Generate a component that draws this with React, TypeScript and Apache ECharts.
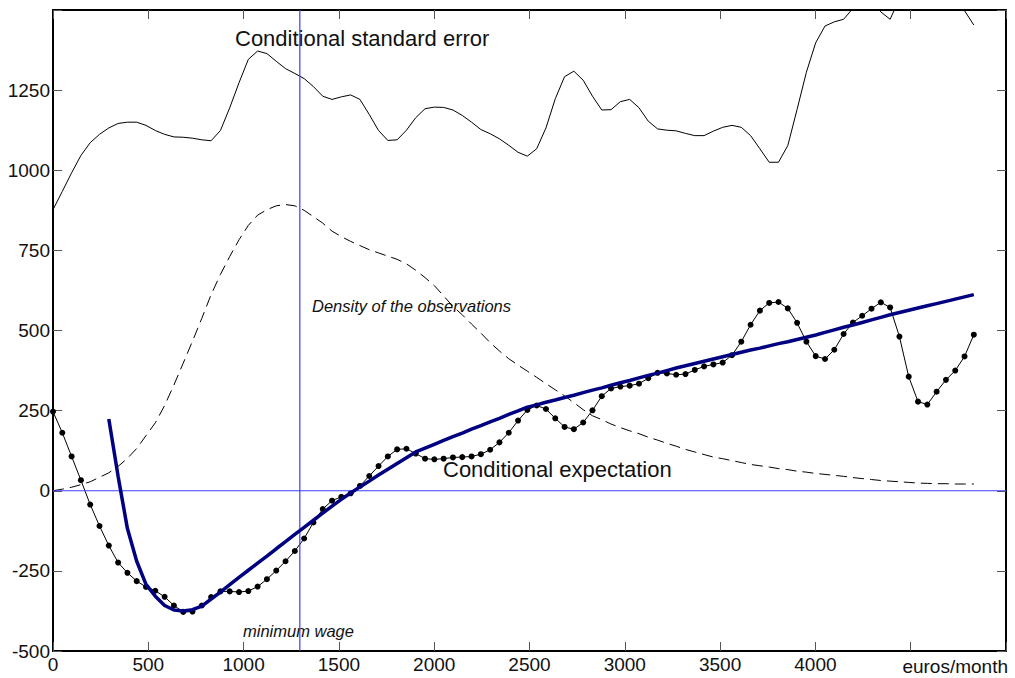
import React, { useEffect, useRef } from "react";
import * as echarts from "echarts";

// Sampling grid of the estimates (euros/month)
const X_STEP = 48.8;
const X_MAX = 5000;
const Y_MIN = -500;
const Y_MAX = 1500;
const MIN_WAGE = 1295;

// Conditional standard error (thin solid line)
const STD_ERROR = [
  877, 934, 992, 1046, 1086, 1112, 1132, 1146, 1150, 1150,
  1140, 1124, 1112, 1104, 1103, 1100, 1095, 1092, 1124, 1195,
  1273, 1346, 1372, 1364, 1340, 1317, 1302, 1286, 1261, 1231,
  1221, 1229, 1235, 1221, 1174, 1124, 1093, 1095, 1125, 1164,
  1192, 1197, 1196, 1188, 1171, 1150, 1127, 1114, 1098, 1078,
  1056, 1044, 1067, 1132, 1223, 1292, 1309, 1281, 1231, 1188,
  1189, 1214, 1221, 1195, 1153, 1129, 1125, 1123, 1115, 1108,
  1108, 1122, 1134, 1140, 1134, 1108, 1067, 1025, 1025, 1077,
  1190, 1306, 1398, 1450, 1463, 1471, 1505, 1560, 1530, 1494,
  1471, 1535, 1600, 1620, 1610, 1590, 1560, 1540, 1498, 1453,
];

// Density of the observations (dashed line, rescaled)
const DENSITY = [
  0, 5, 11, 19, 28, 42, 56, 76, 101, 132,
  172, 212, 266, 330, 398, 467, 538, 612, 675, 731,
  783, 828, 860, 877, 889, 893, 889, 875, 855, 835,
  810, 793, 778, 765, 752, 742, 732, 722, 708, 688,
  665, 640, 608, 575, 549, 520, 492, 462, 436, 412,
  392, 373, 354, 334, 315, 296, 275, 253, 234, 222,
  208, 197, 187, 178, 167, 158, 148, 139, 129, 121,
  113, 105, 100, 94, 88, 82, 78, 74, 69, 66,
  61, 58, 54, 51, 48, 45, 41, 38, 35, 32,
  30, 28, 26, 24, 23, 22, 22, 21, 21, 21,
];

// Conditional expectation (line with dots)
const COND_EXP_DOTS = [
  247, 181, 107, 33, -43, -110, -171, -224, -256, -282,
  -300, -312, -331, -358, -378, -377, -358, -332, -314, -314,
  -316, -313, -299, -276, -249, -220, -188, -149, -99, -57,
  -31, -19, -8, 15, 46, 77, 107, 129, 131, 116,
  100, 98, 100, 104, 105, 107, 114, 128, 151, 181,
  219, 252, 266, 255, 226, 199, 192, 213, 251, 295,
  319, 325, 328, 334, 351, 368, 366, 362, 364, 377,
  388, 394, 400, 423, 465, 518, 562, 586, 589, 569,
  524, 465, 420, 411, 440, 489, 525, 546, 568, 588,
  572, 481, 356, 278, 269, 309, 346, 375, 419, 487,
];

// Smoothed conditional expectation (thick navy curve), starts at grid index 6
const SMOOTH_START = 6;
const COND_EXP_SMOOTH = [
  224, 45, -118, -220, -292, -329, -358, -372, -375, -371,
  -360, -338, -316, -293, -270, -248, -226, -204, -181, -159,
  -136, -114, -92, -70, -48, -27, -7, 12, 30, 49,
  67, 85, 103, 121, 133, 145, 157, 169, 180, 192,
  203, 215, 226, 238, 249, 261, 268, 276, 283, 291,
  298, 306, 314, 321, 329, 337, 344, 352, 360, 367,
  375, 383, 390, 397, 404, 411, 418, 425, 432, 439,
  445, 452, 459, 465, 472, 479, 486, 494, 502, 510,
  517, 525, 533, 541, 549, 556, 563, 570, 577, 584,
  591, 598, 605, 612,
];

const FONT = "'Liberation Sans', Arial, Helvetica, sans-serif";
const REF_BLUE = "#3c3cff";

const toPairs = (vals: number[], start = 0) =>
  vals.map((v, i) => [(i + start) * X_STEP, v]);

const makeAxisLine = () => ({ show: true, onZero: false, lineStyle: { color: "#000", width: 2 } });
const makeAxisTick = () => ({ show: true, inside: true, length: 9, lineStyle: { color: "#555", width: 1 } });

export default function App() {
  const ref = useRef<HTMLDivElement>(null);

  useEffect(() => {
    if (!ref.current) return;
    const chart = echarts.init(ref.current, undefined, { renderer: "svg" });

    chart.setOption({
      animation: false,
      backgroundColor: "#fff",
      textStyle: { fontFamily: FONT },
      grid: { left: 53, right: 9, top: 10, bottom: 27, containLabel: false },
      xAxis: [
        {
          type: "value",
          min: 0,
          max: X_MAX,
          interval: 500,
          position: "bottom",
          axisLine: makeAxisLine(),
          axisTick: makeAxisTick(),
          splitLine: { show: false },
          axisLabel: {
            margin: 4,
            fontSize: 19,
            color: "#111",
            fontFamily: FONT,
            formatter: (v: number) => (v <= 4000 ? String(v) : ""),
          },
          name: "euros/month",
          nameLocation: "end",
          nameGap: 2,
          nameTextStyle: {
            fontSize: 19,
            color: "#111",
            fontFamily: FONT,
            align: "right",
            verticalAlign: "top",
            padding: [6, 0, 0, 0],
          },
        },
        {
          type: "value",
          min: 0,
          max: X_MAX,
          interval: 500,
          position: "top",
          axisLine: makeAxisLine(),
          axisTick: makeAxisTick(),
          splitLine: { show: false },
          axisLabel: { show: false },
        },
      ],
      yAxis: [
        {
          type: "value",
          min: Y_MIN,
          max: Y_MAX,
          interval: 250,
          position: "left",
          axisLine: makeAxisLine(),
          axisTick: makeAxisTick(),
          splitLine: { show: false },
          axisLabel: {
            margin: 3,
            fontSize: 19,
            color: "#111",
            fontFamily: FONT,
            formatter: (v: number) => (v >= Y_MAX ? "" : String(v)),
          },
        },
        {
          type: "value",
          min: Y_MIN,
          max: Y_MAX,
          interval: 250,
          position: "right",
          axisLine: makeAxisLine(),
          axisTick: makeAxisTick(),
          splitLine: { show: false },
          axisLabel: { show: false },
        },
      ],
      series: [
        {
          name: "Conditional standard error",
          type: "line",
          data: toPairs(STD_ERROR),
          symbol: "none",
          clip: true,
          lineStyle: { color: "#000", width: 1 },
          z: 2,
        },
        {
          name: "Density of the observations",
          type: "line",
          data: toPairs(DENSITY),
          symbol: "none",
          clip: true,
          lineStyle: { color: "#000", width: 1, type: [11, 6] },
          z: 2,
        },
        {
          name: "Conditional expectation",
          type: "line",
          data: toPairs(COND_EXP_DOTS),
          symbol: "circle",
          symbolSize: 6,
          showSymbol: true,
          clip: true,
          itemStyle: { color: "#000" },
          lineStyle: { color: "#000", width: 1 },
          z: 3,
        },
        {
          name: "Zero line",
          type: "line",
          data: [[0, 0], [X_MAX, 0]],
          symbol: "none",
          itemStyle: { color: REF_BLUE },
          lineStyle: { color: REF_BLUE, width: 1.2 },
          z: 3.5,
        },
        {
          name: "Minimum wage",
          type: "line",
          data: [[MIN_WAGE, Y_MIN], [MIN_WAGE, Y_MAX]],
          symbol: "none",
          itemStyle: { color: REF_BLUE },
          lineStyle: { color: REF_BLUE, width: 1.2 },
          z: 3.5,
        },
        {
          name: "Smoothed conditional expectation",
          type: "line",
          data: toPairs(COND_EXP_SMOOTH, SMOOTH_START),
          symbol: "none",
          clip: true,
          lineStyle: { color: "#000080", width: 3.5 },
          z: 4,
        },
      ],
      graphic: [
        {
          type: "text",
          x: 235,
          y: 38,
          style: { text: "Conditional standard error", fontSize: 22, fontFamily: FONT, fill: "#111", align: "left", verticalAlign: "middle" },
        },
        {
          type: "text",
          x: 443,
          y: 469,
          style: { text: "Conditional expectation", fontSize: 22, fontFamily: FONT, fill: "#111", align: "left", verticalAlign: "middle" },
        },
        {
          type: "text",
          x: 312,
          y: 306,
          style: { text: "Density of the observations", fontSize: 16.5, fontStyle: "italic", fontFamily: FONT, fill: "#111", align: "left", verticalAlign: "middle" },
        },
        {
          type: "text",
          x: 243,
          y: 631,
          style: { text: "minimum wage", fontSize: 16.5, fontStyle: "italic", fontFamily: FONT, fill: "#111", align: "left", verticalAlign: "middle" },
        },
      ],
    });

    return () => chart.dispose();
  }, []);

  return (
    <div
      ref={ref}
      style={{ position: "fixed", left: 0, top: 0, width: 1015, height: 678, background: "#fff" }}
    />
  );
}
